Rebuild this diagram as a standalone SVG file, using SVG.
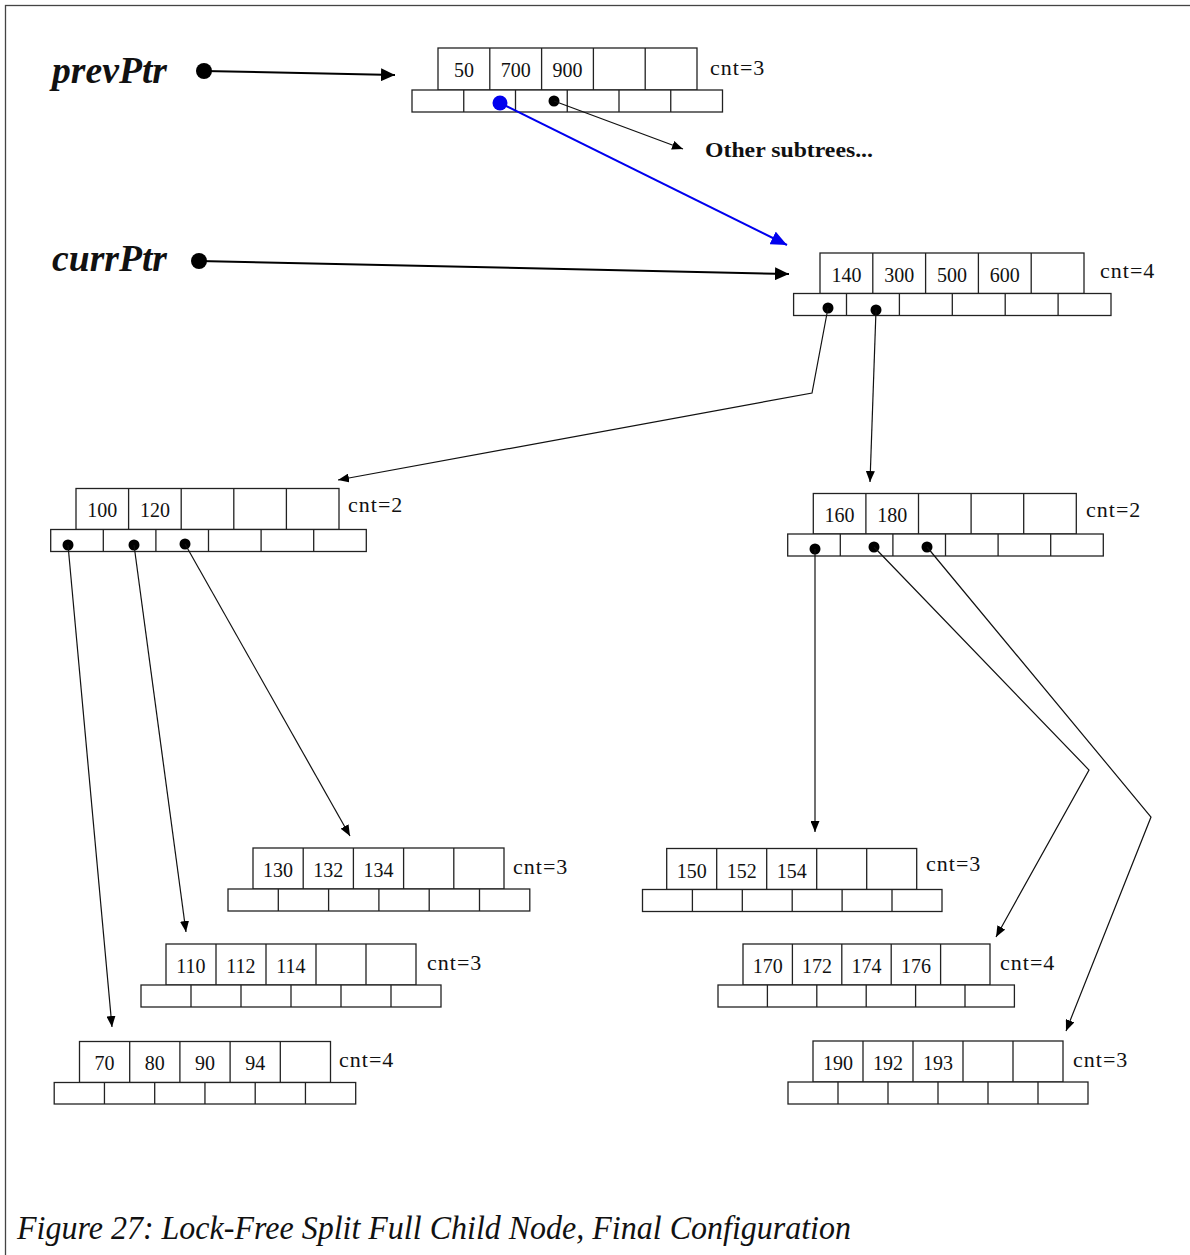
<svg xmlns="http://www.w3.org/2000/svg" width="1190" height="1255" viewBox="0 0 1190 1255">
  <style>
    .box { fill: #ffffff; stroke: #222222; stroke-width: 1.3; }
    .div { fill: none; stroke: #222222; stroke-width: 1.3; }
    .key { font-family: "Liberation Serif", "Times New Roman", serif; font-size: 20px; fill: #111111; text-anchor: middle; }
    .cnt { font-family: "Liberation Serif", "Times New Roman", serif; font-size: 22px; fill: #111111; letter-spacing: 1px; }
    .var { font-family: "Liberation Serif", "Times New Roman", serif; font-size: 38px; font-weight: bold; font-style: italic; fill: #111111; }
    .note { font-family: "Liberation Serif", "Times New Roman", serif; font-size: 22px; font-weight: bold; fill: #111111; }
    .caption { font-family: "Liberation Serif", "Times New Roman", serif; font-size: 33px; font-style: italic; fill: #111111; }
    .link { fill: none; stroke: #111111; stroke-width: 1.2; }
    .ptr { fill: none; stroke: #000000; stroke-width: 2; }
    .dot { fill: #000000; }
  </style>
  <defs>
    <marker id="arr" markerUnits="userSpaceOnUse" markerWidth="11" markerHeight="9" refX="11" refY="4.5" orient="auto">
      <path d="M0,0 L11,4.5 L0,9 Z" fill="#000000"/>
    </marker>
    <marker id="arrBig" markerUnits="userSpaceOnUse" markerWidth="14" markerHeight="13" refX="14" refY="6.5" orient="auto">
      <path d="M0,0 L14,6.5 L0,13 Z" fill="#000000"/>
    </marker>
    <marker id="arrBlue" markerUnits="userSpaceOnUse" markerWidth="16" markerHeight="14" refX="16" refY="7" orient="auto">
      <path d="M0,0 L16,7 L0,14 Z" fill="#0000ee"/>
    </marker>
  </defs>

  <!-- page frame -->
  <rect x="5.5" y="5.5" width="1200" height="1300" fill="#ffffff" stroke="#444444" stroke-width="1.3"/>

  <!-- pointer variables -->
  <text class="var" x="52" y="83" textLength="115" lengthAdjust="spacingAndGlyphs">prevPtr</text>
  <text class="var" x="52" y="271" textLength="115" lengthAdjust="spacingAndGlyphs">currPtr</text>
  <text class="note" x="705" y="157" textLength="168" lengthAdjust="spacingAndGlyphs">Other subtrees...</text>

  <!-- parent node -->
  <g id="node-prev">
    <rect class="box" x="438" y="48" width="259" height="42"/>
    <path class="div" d="M489.8,48V90 M541.6,48V90 M593.4,48V90 M645.2,48V90"/>
    <rect class="box" x="412" y="90" width="310.5" height="22"/>
    <path class="div" d="M463.75,90V112 M515.5,90V112 M567.25,90V112 M619,90V112 M670.75,90V112"/>
    <text class="key" x="463.9" y="77">50</text>
    <text class="key" x="515.7" y="77">700</text>
    <text class="key" x="567.5" y="77">900</text>
    <text class="cnt" x="710" y="75">cnt=3</text>
  </g>

  <!-- current node -->
  <g id="node-curr">
    <rect class="box" x="820" y="253" width="264" height="40.5"/>
    <path class="div" d="M872.8,253V293.5 M925.6,253V293.5 M978.4,253V293.5 M1031.2,253V293.5"/>
    <rect class="box" x="793.6" y="293.5" width="317.4" height="22"/>
    <path class="div" d="M846.5,293.5V315.5 M899.4,293.5V315.5 M952.3,293.5V315.5 M1005.2,293.5V315.5 M1058.1,293.5V315.5"/>
    <text class="key" x="846.4" y="282">140</text>
    <text class="key" x="899.2" y="282">300</text>
    <text class="key" x="952" y="282">500</text>
    <text class="key" x="1004.8" y="282">600</text>
    <text class="cnt" x="1100" y="278">cnt=4</text>
  </g>

  <!-- left child -->
  <g id="node-100">
    <rect class="box" x="76" y="488.5" width="263" height="41"/>
    <path class="div" d="M128.6,488.5V529.5 M181.2,488.5V529.5 M233.8,488.5V529.5 M286.4,488.5V529.5"/>
    <rect class="box" x="50.7" y="529.5" width="315.6" height="22"/>
    <path class="div" d="M103.3,529.5V551.5 M155.9,529.5V551.5 M208.5,529.5V551.5 M261.1,529.5V551.5 M313.7,529.5V551.5"/>
    <text class="key" x="102.3" y="517">100</text>
    <text class="key" x="154.9" y="517">120</text>
    <text class="cnt" x="348" y="512">cnt=2</text>
  </g>

  <!-- right child -->
  <g id="node-160">
    <rect class="box" x="813.3" y="493.5" width="263" height="40.5"/>
    <path class="div" d="M865.9,493.5V534 M918.5,493.5V534 M971.1,493.5V534 M1023.7,493.5V534"/>
    <rect class="box" x="787.7" y="534" width="315.6" height="22"/>
    <path class="div" d="M840.3,534V556 M892.9,534V556 M945.5,534V556 M998.1,534V556 M1050.7,534V556"/>
    <text class="key" x="839.6" y="522">160</text>
    <text class="key" x="892.2" y="522">180</text>
    <text class="cnt" x="1086" y="517">cnt=2</text>
  </g>

  <!-- leaves -->
  <g id="node-130">
    <rect class="box" x="253" y="848" width="251" height="41"/>
    <path class="div" d="M303.2,848V889 M353.4,848V889 M403.6,848V889 M453.8,848V889"/>
    <rect class="box" x="228" y="889" width="301.8" height="22"/>
    <path class="div" d="M278.3,889V911 M328.6,889V911 M378.9,889V911 M429.2,889V911 M479.5,889V911"/>
    <text class="key" x="278.1" y="877">130</text>
    <text class="key" x="328.3" y="877">132</text>
    <text class="key" x="378.5" y="877">134</text>
    <text class="cnt" x="513" y="874">cnt=3</text>
  </g>

  <g id="node-150">
    <rect class="box" x="666.7" y="848.5" width="250" height="41"/>
    <path class="div" d="M716.7,848.5V889.5 M766.7,848.5V889.5 M816.7,848.5V889.5 M866.7,848.5V889.5"/>
    <rect class="box" x="642.5" y="889.5" width="299.5" height="22"/>
    <path class="div" d="M692.4,889.5V911.5 M742.3,889.5V911.5 M792.2,889.5V911.5 M842.1,889.5V911.5 M892,889.5V911.5"/>
    <text class="key" x="691.7" y="878">150</text>
    <text class="key" x="741.7" y="878">152</text>
    <text class="key" x="791.7" y="878">154</text>
    <text class="cnt" x="926" y="871">cnt=3</text>
  </g>

  <g id="node-110">
    <rect class="box" x="166" y="944" width="250" height="41"/>
    <path class="div" d="M216,944V985 M266,944V985 M316,944V985 M366,944V985"/>
    <rect class="box" x="141" y="985" width="300" height="22"/>
    <path class="div" d="M191,985V1007 M241,985V1007 M291,985V1007 M341,985V1007 M391,985V1007"/>
    <text class="key" x="191" y="973">110</text>
    <text class="key" x="241" y="973">112</text>
    <text class="key" x="291" y="973">114</text>
    <text class="cnt" x="427" y="970">cnt=3</text>
  </g>

  <g id="node-170">
    <rect class="box" x="743" y="944" width="247" height="41"/>
    <path class="div" d="M792.4,944V985 M841.8,944V985 M891.2,944V985 M940.6,944V985"/>
    <rect class="box" x="718" y="985" width="296.4" height="22"/>
    <path class="div" d="M767.4,985V1007 M816.8,985V1007 M866.2,985V1007 M915.6,985V1007 M965,985V1007"/>
    <text class="key" x="767.7" y="973">170</text>
    <text class="key" x="817.1" y="973">172</text>
    <text class="key" x="866.5" y="973">174</text>
    <text class="key" x="915.9" y="973">176</text>
    <text class="cnt" x="1000" y="970">cnt=4</text>
  </g>

  <g id="node-70">
    <rect class="box" x="79.5" y="1041.5" width="251" height="41"/>
    <path class="div" d="M129.7,1041.5V1082.5 M179.9,1041.5V1082.5 M230.1,1041.5V1082.5 M280.3,1041.5V1082.5"/>
    <rect class="box" x="54.2" y="1082.5" width="301.5" height="21.5"/>
    <path class="div" d="M104.45,1082.5V1104 M154.7,1082.5V1104 M204.95,1082.5V1104 M255.2,1082.5V1104 M305.45,1082.5V1104"/>
    <text class="key" x="104.6" y="1070">70</text>
    <text class="key" x="154.8" y="1070">80</text>
    <text class="key" x="205" y="1070">90</text>
    <text class="key" x="255.2" y="1070">94</text>
    <text class="cnt" x="339" y="1067">cnt=4</text>
  </g>

  <g id="node-190">
    <rect class="box" x="813" y="1041" width="250" height="41"/>
    <path class="div" d="M863,1041V1082 M913,1041V1082 M963,1041V1082 M1013,1041V1082"/>
    <rect class="box" x="788" y="1082" width="300" height="22"/>
    <path class="div" d="M838,1082V1104 M888,1082V1104 M938,1082V1104 M988,1082V1104 M1038,1082V1104"/>
    <text class="key" x="838" y="1070">190</text>
    <text class="key" x="888" y="1070">192</text>
    <text class="key" x="938" y="1070">193</text>
    <text class="cnt" x="1073" y="1067">cnt=3</text>
  </g>

  <!-- connectors -->
  <g id="connectors">
    <circle class="dot" cx="204" cy="71" r="8"/>
    <line class="ptr" x1="204" y1="71" x2="395" y2="75" marker-end="url(#arrBig)"/>
    <circle class="dot" cx="199" cy="261" r="8"/>
    <line class="ptr" x1="199" y1="261" x2="789" y2="274" marker-end="url(#arrBig)"/>

    <circle cx="500" cy="103" r="7.5" fill="#0000ee"/>
    <line x1="500" y1="103" x2="787" y2="245" stroke="#0000ee" stroke-width="2" marker-end="url(#arrBlue)"/>

    <circle class="dot" cx="554" cy="101" r="5.5"/>
    <line class="link" x1="554" y1="101" x2="683" y2="149" marker-end="url(#arr)"/>

    <circle class="dot" cx="828" cy="308" r="5.5"/>
    <polyline class="link" points="828,308 812,393 338,480" marker-end="url(#arr)"/>
    <circle class="dot" cx="876" cy="310" r="5.5"/>
    <line class="link" x1="876" y1="310" x2="870" y2="482" marker-end="url(#arr)"/>

    <circle class="dot" cx="68" cy="545" r="5.5"/>
    <line class="link" x1="68" y1="545" x2="112" y2="1027" marker-end="url(#arr)"/>
    <circle class="dot" cx="134" cy="545" r="5.5"/>
    <line class="link" x1="134" y1="545" x2="186" y2="932" marker-end="url(#arr)"/>
    <circle class="dot" cx="185" cy="544" r="5.5"/>
    <line class="link" x1="185" y1="544" x2="350" y2="836" marker-end="url(#arr)"/>

    <circle class="dot" cx="815" cy="549" r="5.5"/>
    <line class="link" x1="815" y1="549" x2="815" y2="832" marker-end="url(#arr)"/>
    <circle class="dot" cx="874" cy="547" r="5.5"/>
    <polyline class="link" points="874,547 1089,770 996,937" marker-end="url(#arr)"/>
    <circle class="dot" cx="927" cy="547" r="5.5"/>
    <polyline class="link" points="927,547 1151,817 1066,1031" marker-end="url(#arr)"/>
  </g>

  <text class="caption" x="17" y="1239" textLength="834" lengthAdjust="spacingAndGlyphs">Figure 27: Lock-Free Split Full Child Node, Final Configuration</text>
</svg>
